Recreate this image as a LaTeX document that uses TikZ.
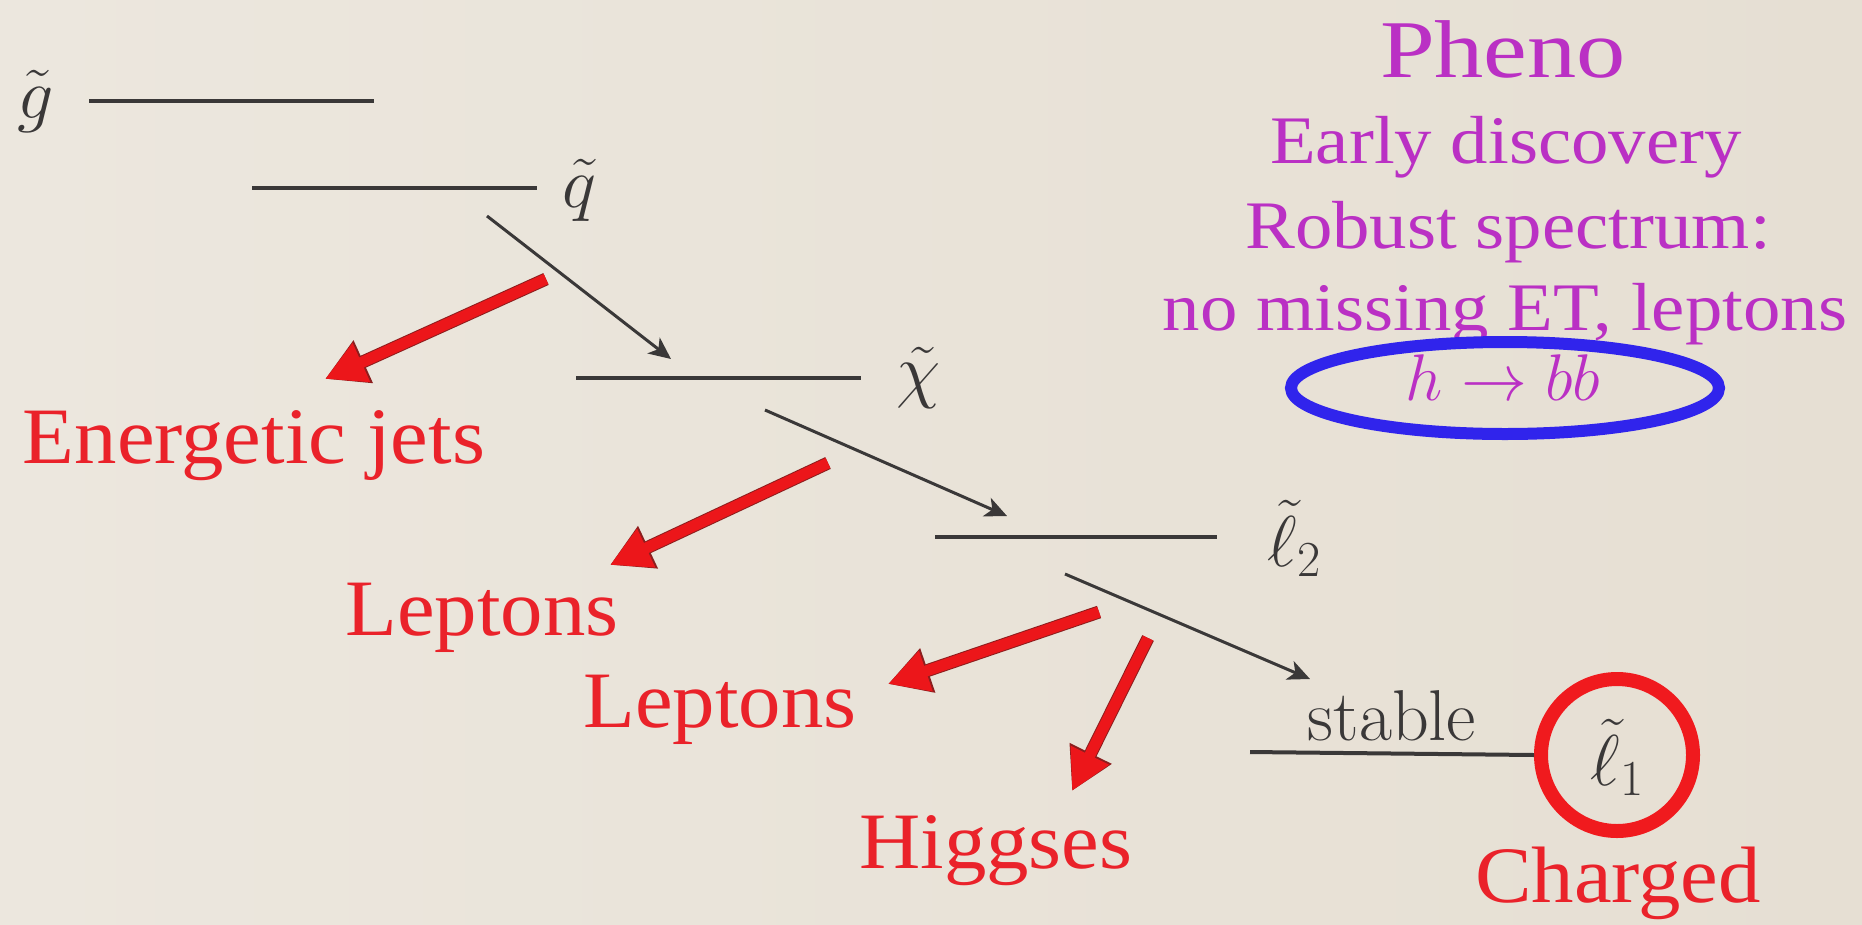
\RequirePackage{fix-cm}
\documentclass[tikz,border=0pt]{standalone}
\usepackage{fontspec}
\usetikzlibrary{arrows.meta,shapes.geometric}
\newfontfamily\redfont[FakeStretch=1.06]{Liberation Serif}
\newfontfamily\phfont[FakeStretch=1.1]{Liberation Serif}
\newfontfamily\phbig[FakeStretch=1.2]{Liberation Serif}
\definecolor{bgl}{RGB}{236,231,222}
\definecolor{bgr}{RGB}{230,223,211}
\definecolor{lvl}{RGB}{58,56,56}
\definecolor{redtxt}{RGB}{234,34,42}
\definecolor{redarr}{RGB}{236,22,26}
\definecolor{redout}{RGB}{140,30,30}
\definecolor{phenoc}{RGB}{186,48,196}
\definecolor{ringblue}{RGB}{48,36,236}
\definecolor{ringred}{RGB}{240,26,30}
\tikzset{
  levelline/.style={draw=lvl, line width=4pt},
  decay/.style={draw=lvl, line width=3pt, -{Stealth[length=22pt,width=20pt,inset=6pt]}},
  emit/.style={draw=redarr, line width=11pt, -{Triangle[length=40pt,width=40pt]},
    preaction={draw=redout, line width=13pt, -{Triangle[length=42pt,width=44pt]}}},
  redlab/.style={text=redtxt, font=\redfont\fontsize{80}{88}\selectfont, anchor=base, inner sep=0pt},
  phenolab/.style={text=phenoc, font=\phfont\fontsize{68}{76}\selectfont, anchor=base, inner sep=0pt},
  sparticle/.style={text=lvl, font=\fontsize{72}{80}\selectfont, anchor=base, inner sep=0pt},
}
\begin{document}
\begin{tikzpicture}[x=1pt,y=-1pt]
\useasboundingbox (0,0) rectangle (1862,924);
\fill[left color=bgl, right color=bgr] (0,0) rectangle (1862,924);

% particle labels
\node[sparticle] (gt) at (36,118) {$\tilde g$};
\node[sparticle] (qt) at (579,207) {$\tilde q$};
\node[sparticle] (chi) at (919,394) {$\tilde\chi$};
\node[sparticle] (l2) at (1294,566) {$\tilde\ell_2$};
\node[sparticle] (stab) at (1392,740) {stable};
\node[sparticle] (l1) at (1617,785) {$\tilde\ell_1$};
\node[draw=ringred, line width=14pt, circle, minimum size=152pt, inner sep=0pt] (ring) at (1617,755) {};

% level lines
\coordinate (g1) at (89,101);   \coordinate (g2) at (374,101);
\coordinate (q1) at (252,188);  \coordinate (q2) at (537,188);
\coordinate (c1) at (576,378);  \coordinate (c2) at (861,378);
\coordinate (m1) at (935,537);  \coordinate (m2) at (1217,537);
\coordinate (s1) at (1250,752);
\draw[levelline] (g1) -- (g2);
\draw[levelline] (q1) -- (q2);
\draw[levelline] (c1) -- (c2);
\draw[levelline] (m1) -- (m2);
\draw[levelline] (s1) -- (ring.west);

% decay arrows
\coordinate (d1a) at (487,216);  \coordinate (d1b) at (671,359);
\coordinate (d2a) at (765,410);  \coordinate (d2b) at (1007,516);
\coordinate (d3a) at (1065,574); \coordinate (d3b) at (1310,679);
\draw[decay] (d1a) -- (d1b);
\draw[decay] (d2a) -- (d2b);
\draw[decay] (d3a) -- (d3b);

% red emission labels
\node[redlab] (jets) at (254,463) {Energetic jets};
\node[redlab] (lep1) at (482,635) {Leptons};
\node[redlab] (lep2) at (720,727) {Leptons};
\node[redlab] (higgs) at (996,868) {Higgses};
\node[redlab] (charged) at (1618,902) {Charged};

% red emission arrows
\coordinate (r1a) at (546,279);  \coordinate (r1b) at (325,379);
\coordinate (r2a) at (828,463);  \coordinate (r2b) at (610,565);
\coordinate (r3a) at (1099,612); \coordinate (r3b) at (888,684);
\coordinate (r4a) at (1148,638); \coordinate (r4b) at (1072,791);
\draw[emit] (r1a) -- (r1b);
\draw[emit] (r2a) -- (r2b);
\draw[emit] (r3a) -- (r3b);
\draw[emit] (r4a) -- (r4b);

% pheno block
\node[phenolab, font=\phbig\fontsize{82}{90}\selectfont] (pheno) at (1503,77) {Pheno};
\node[phenolab] (early) at (1506,163) {Early discovery};
\node[phenolab] (robust) at (1508,248) {Robust spectrum:};
\node[phenolab] (nomiss) at (1505,330) {no missing ET, leptons};
\node[phenolab, font=\fontsize{66}{72}\selectfont] (hbb) at (1503,400) {$h\to bb$};
\node[draw=ringblue, line width=12pt, ellipse, minimum width=428pt, minimum height=92pt, inner sep=0pt] (hbbring) at (1505,388) {};
\end{tikzpicture}
\end{document}
